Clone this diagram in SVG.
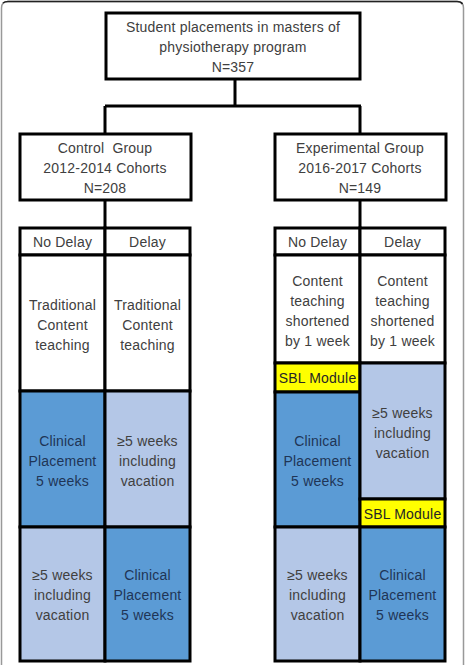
<svg xmlns="http://www.w3.org/2000/svg" width="465" height="665" viewBox="0 0 465 665">
<style>
.box{fill:#ffffff;stroke:#000000;stroke-width:3}
.cell{stroke:#000000;stroke-width:3}
.w{fill:#ffffff}
.dk{fill:#5b9bd5}
.lt{fill:#b4c7e7}
.yl{fill:#ffff00}
.conn{fill:none;stroke:#000000;stroke-width:3}
text{font-family:"Liberation Sans",Arial,sans-serif;font-size:14px;text-anchor:middle;fill:#404040;letter-spacing:0.2px}
.bt{fill:#1f3556}
.yt{fill:#262626}
</style>
<path d="M1.5,665 L1.5,8 Q1.5,1.5 8,1.5 L457,1.5 Q463.5,1.5 463.5,8 L463.5,665" fill="none" stroke="#999999" stroke-width="1.5"/>
<path d="M3,3 Q5,1.5 8,1.5 L457,1.5 Q461,1.5 462.5,4" fill="none" stroke="#222222" stroke-width="1.5"/>
<g id="connectors">
<path class="conn" d="M235,79 L235,106 M105,106 L361,106 M105,106 L105,134 M360,106 L360,134 M105,200 L105,228 M360,200 L360,228"/>
</g>
<g id="top">
<rect class="box" x="106" y="13" width="254" height="66"/>
<text x="233" y="32">Student placements in masters of</text>
<text x="233" y="52">physiotherapy program</text>
<text x="233" y="72">N=357</text>
</g>
<g id="control">
<rect class="box" x="20" y="134" width="171" height="66"/>
<text x="105" y="153" xml:space="preserve">Control  Group</text>
<text x="105" y="173">2012-2014 Cohorts</text>
<text x="105" y="193">N=208</text>
</g>
<g id="experimental">
<rect class="box" x="275" y="134" width="171" height="66"/>
<text x="360" y="153">Experimental Group</text>
<text x="360" y="173">2016-2017 Cohorts</text>
<text x="360" y="193">N=149</text>
</g>
<g id="control-table">
<rect class="cell w" x="20" y="228" width="85" height="27"/>
<text x="62.5" y="247">No Delay</text>
<rect class="cell w" x="105" y="228" width="85" height="27"/>
<text x="147.5" y="247">Delay</text>
<rect class="cell w" x="20" y="255" width="85" height="136"/>
<text x="62.5" y="310">Traditional</text>
<text x="62.5" y="330">Content</text>
<text x="62.5" y="350">teaching</text>
<rect class="cell w" x="105" y="255" width="85" height="136"/>
<text x="147.5" y="310">Traditional</text>
<text x="147.5" y="330">Content</text>
<text x="147.5" y="350">teaching</text>
<rect class="cell dk" x="20" y="391" width="85" height="136"/>
<text class="bt" x="62.5" y="446">Clinical</text>
<text class="bt" x="62.5" y="466">Placement</text>
<text class="bt" x="62.5" y="486">5 weeks</text>
<rect class="cell lt" x="105" y="391" width="85" height="136"/>
<text x="147.5" y="446">≥5 weeks</text>
<text x="147.5" y="466">including</text>
<text x="147.5" y="486">vacation</text>
<rect class="cell lt" x="20" y="527" width="85" height="134"/>
<text x="62.5" y="580">≥5 weeks</text>
<text x="62.5" y="600">including</text>
<text x="62.5" y="620">vacation</text>
<rect class="cell dk" x="105" y="527" width="85" height="134"/>
<text class="bt" x="147.5" y="580">Clinical</text>
<text class="bt" x="147.5" y="600">Placement</text>
<text class="bt" x="147.5" y="620">5 weeks</text>
</g>
<g id="experimental-table">
<rect class="cell w" x="275" y="228" width="85" height="27"/>
<text x="317.5" y="247">No Delay</text>
<rect class="cell w" x="360" y="228" width="85" height="27"/>
<text x="402.5" y="247">Delay</text>
<rect class="cell w" x="275" y="255" width="85" height="108"/>
<text x="317.5" y="286">Content</text>
<text x="317.5" y="306">teaching</text>
<text x="317.5" y="326">shortened</text>
<text x="317.5" y="346">by 1 week</text>
<rect class="cell w" x="360" y="255" width="85" height="108"/>
<text x="402.5" y="286">Content</text>
<text x="402.5" y="306">teaching</text>
<text x="402.5" y="326">shortened</text>
<text x="402.5" y="346">by 1 week</text>
<rect class="cell yl" x="275" y="363" width="85" height="29"/>
<text class="yt" x="317.5" y="383">SBL Module</text>
<rect class="cell dk" x="275" y="392" width="85" height="135"/>
<text class="bt" x="317.5" y="446">Clinical</text>
<text class="bt" x="317.5" y="466">Placement</text>
<text class="bt" x="317.5" y="486">5 weeks</text>
<rect class="cell lt" x="360" y="363" width="85" height="136"/>
<text x="402.5" y="418">≥5 weeks</text>
<text x="402.5" y="438">including</text>
<text x="402.5" y="458">vacation</text>
<rect class="cell yl" x="360" y="499" width="85" height="28"/>
<text class="yt" x="402.5" y="519">SBL Module</text>
<rect class="cell lt" x="275" y="527" width="85" height="134"/>
<text x="317.5" y="580">≥5 weeks</text>
<text x="317.5" y="600">including</text>
<text x="317.5" y="620">vacation</text>
<rect class="cell dk" x="360" y="527" width="85" height="134"/>
<text class="bt" x="402.5" y="580">Clinical</text>
<text class="bt" x="402.5" y="600">Placement</text>
<text class="bt" x="402.5" y="620">5 weeks</text>
</g>
</svg>
